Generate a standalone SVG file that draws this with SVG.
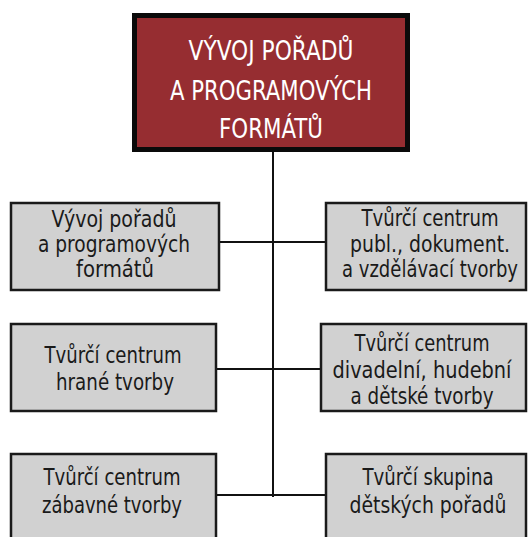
<svg xmlns="http://www.w3.org/2000/svg" width="528" height="537" viewBox="0 0 528 537">
<style>
.box{fill:#d1d1d1;stroke:#1a1a1a;stroke-width:2.5}
.top{fill:#962d31;stroke:#0a0a0a;stroke-width:5}
.t{font-family:"DejaVu Sans Condensed","Liberation Sans Narrow","Liberation Sans",sans-serif;font-size:23px;fill:#1a1a1a;text-anchor:middle}
.tw{font-family:"DejaVu Sans Condensed","Liberation Sans Narrow","Liberation Sans",sans-serif;font-size:27px;fill:#ffffff;text-anchor:middle}
.c{stroke:#111;stroke-width:2;fill:none}
</style>
<rect width="528" height="537" fill="#ffffff"/>
<g id="connectors">
<line class="c" x1="273" y1="152" x2="273" y2="497"/>
<line class="c" x1="220" y1="242" x2="325" y2="242"/>
<line class="c" x1="217" y1="369" x2="320" y2="369"/>
<line class="c" x1="217" y1="495" x2="325" y2="495"/>
</g>
<g id="top">
<rect class="top" x="134.5" y="15.5" width="273" height="134"/>
<text class="tw" x="271" y="60" textLength="165" lengthAdjust="spacingAndGlyphs">VÝVOJ POŘADŮ</text>
<text class="tw" x="271" y="100" textLength="202" lengthAdjust="spacingAndGlyphs">A PROGRAMOVÝCH</text>
<text class="tw" x="271" y="138" textLength="104" lengthAdjust="spacingAndGlyphs">FORMÁTŮ</text>
</g>
<g id="n1">
<rect class="box" x="11" y="203" width="208" height="87"/>
<text class="t" x="114" y="227" textLength="125" lengthAdjust="spacingAndGlyphs">Vývoj pořadů</text>
<text class="t" x="114" y="252" textLength="152" lengthAdjust="spacingAndGlyphs">a programových</text>
<text class="t" x="115" y="277" textLength="78" lengthAdjust="spacingAndGlyphs">formátů</text>
</g>
<g id="n2">
<rect class="box" x="326" y="203" width="200" height="87"/>
<text class="t" x="430" y="226" textLength="137" lengthAdjust="spacingAndGlyphs">Tvůrčí centrum</text>
<text class="t" x="430" y="252" textLength="160" lengthAdjust="spacingAndGlyphs">publ., dokument.</text>
<text class="t" x="430" y="277" font-size="21.5" textLength="176" lengthAdjust="spacingAndGlyphs">a vzdělávací tvorby</text>
</g>
<g id="n3">
<rect class="box" x="11" y="324" width="205" height="87"/>
<text class="t" x="113" y="363" textLength="137" lengthAdjust="spacingAndGlyphs">Tvůrčí centrum</text>
<text class="t" x="115" y="390" textLength="118" lengthAdjust="spacingAndGlyphs">hrané tvorby</text>
</g>
<g id="n4">
<rect class="box" x="321" y="324" width="205" height="87"/>
<text class="t" x="422" y="351" textLength="135" lengthAdjust="spacingAndGlyphs">Tvůrčí centrum</text>
<text class="t" x="422" y="378" textLength="179" lengthAdjust="spacingAndGlyphs">divadelní, hudební</text>
<text class="t" x="422" y="404" textLength="143" lengthAdjust="spacingAndGlyphs">a dětské tvorby</text>
</g>
<g id="n5">
<rect class="box" x="11" y="454" width="205" height="95"/>
<text class="t" x="112" y="485" textLength="137" lengthAdjust="spacingAndGlyphs">Tvůrčí centrum</text>
<text class="t" x="112" y="513" textLength="140" lengthAdjust="spacingAndGlyphs">zábavné tvorby</text>
</g>
<g id="n6">
<rect class="box" x="326" y="454" width="200" height="95"/>
<text class="t" x="428" y="485" textLength="131" lengthAdjust="spacingAndGlyphs">Tvůrčí skupina</text>
<text class="t" x="428" y="513" textLength="157" lengthAdjust="spacingAndGlyphs">dětských pořadů</text>
</g>
</svg>
